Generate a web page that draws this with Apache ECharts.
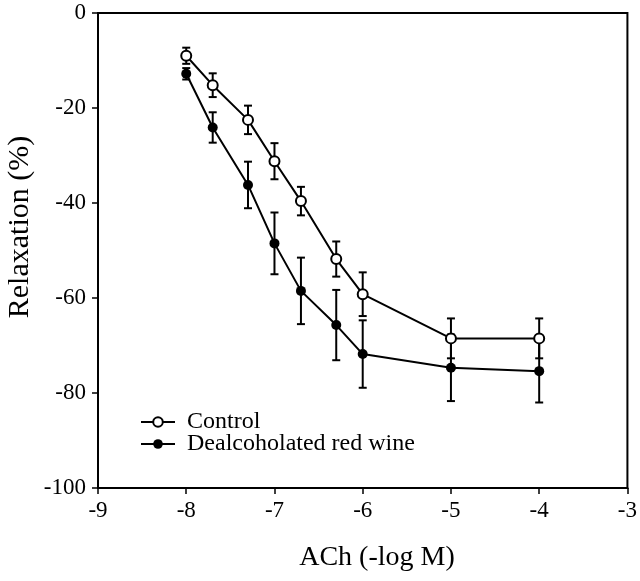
<!DOCTYPE html>
<html><head><meta charset="utf-8">
<script src="https://cdn.jsdelivr.net/npm/echarts@6/dist/echarts.min.js"></script>
<style>html,body{margin:0;padding:0;background:#fff}#c{width:640px;height:581px}</style>
</head><body><div id="c"></div>
<script>
const concentrations = [-8, -7.7, -7.3, -7, -6.7, -6.3, -6, -5, -4];
const controlMean = [-9, -15.2, -22.5, -31.2, -39.6, -51.8, -59.2, -68.5, -68.5];
const controlSem = [1.7, 2.5, 3.0, 3.8, 3.0, 3.7, 4.6, 4.2, 4.2];
const wineMean = [-12.8, -24.1, -36.2, -48.5, -58.5, -65.7, -71.8, -74.7, -75.4];
const wineSem = [1.2, 3.2, 4.9, 6.5, 7.0, 7.4, 7.1, 7.0, 6.6];
const seriesNames = ['Control', 'Dealcoholated red wine'];
const xTitle = 'ACh (-log M)';
const yTitle = 'Relaxation (%)';

const FONT = '"Liberation Serif", "Times New Roman", serif';
const pts = (means) => concentrations.map((x, i) => [x, means[i]]);
const errs = (means, sems) => concentrations.map((x, i) => [x, means[i] - sems[i], means[i] + sems[i]]);

function errRender(params, api) {
  const x = api.value(0);
  const pLo = api.coord([x, api.value(1)]);
  const pHi = api.coord([x, api.value(2)]);
  const w = 4;
  const st = { stroke: '#000', lineWidth: 2 };
  return { type: 'group', children: [
    { type: 'line', shape: { x1: pLo[0], y1: pLo[1], x2: pHi[0], y2: pHi[1] }, style: st },
    { type: 'line', shape: { x1: pLo[0] - w, y1: pLo[1], x2: pLo[0] + w, y2: pLo[1] }, style: st },
    { type: 'line', shape: { x1: pHi[0] - w, y1: pHi[1], x2: pHi[0] + w, y2: pHi[1] }, style: st }
  ]};
}

const chart = echarts.init(document.getElementById('c'), null, { renderer: 'canvas' });
chart.setOption({
  animation: false,
  backgroundColor: '#fff',
  grid: { left: 98, right: 8, top: 13, bottom: 93, show: true, borderColor: '#000', borderWidth: 2, containLabel: false },
  xAxis: {
    type: 'value', min: -9, max: -3, interval: 1,
    axisLine: { show: true, onZero: false, lineStyle: { color: '#000', width: 2 } },
    axisTick: { show: true, length: 6, lineStyle: { color: '#000', width: 1.5 } },
    axisLabel: { color: '#000', fontFamily: FONT, fontSize: 23, margin: 11 },
    splitLine: { show: false }
  },
  yAxis: {
    type: 'value', min: -100, max: 0, interval: 20,
    axisLine: { show: true, onZero: false, lineStyle: { color: '#000', width: 2 } },
    axisTick: { show: true, length: 6, lineStyle: { color: '#000', width: 1.5 } },
    axisLabel: { color: '#000', fontFamily: FONT, fontSize: 23, margin: 12 },
    splitLine: { show: false }
  },
  legend: {
    orient: 'vertical', left: 135, top: 405, itemWidth: 34, itemHeight: 12, itemGap: -2,
    data: seriesNames,
    textStyle: { color: '#000', fontFamily: FONT, fontSize: 24, padding: [0, 0, 0, 7] }
  },
  graphic: [
    { type: 'text', style: { text: yTitle, font: '30px ' + FONT, fill: '#000', textAlign: 'center', textVerticalAlign: 'middle' }, x: 20, y: 227, rotation: Math.PI / 2 },
    { type: 'text', style: { text: xTitle, font: '28px ' + FONT, fill: '#000', textAlign: 'center', textVerticalAlign: 'middle' }, x: 377, y: 558 }
  ],
  series: [
    { type: 'custom', renderItem: errRender, data: errs(controlMean, controlSem), z: 1, silent: true },
    { type: 'custom', renderItem: errRender, data: errs(wineMean, wineSem), z: 1, silent: true },
    { name: seriesNames[0], type: 'line', data: pts(controlMean), symbol: 'emptyCircle', symbolSize: 10,
      itemStyle: { color: '#000', borderWidth: 2 }, lineStyle: { color: '#000', width: 2 }, z: 3 },
    { name: seriesNames[1], type: 'line', data: pts(wineMean), symbol: 'circle', symbolSize: 10,
      itemStyle: { color: '#000' }, lineStyle: { color: '#000', width: 2 }, z: 2 }
  ]
});
</script>
</body></html>
